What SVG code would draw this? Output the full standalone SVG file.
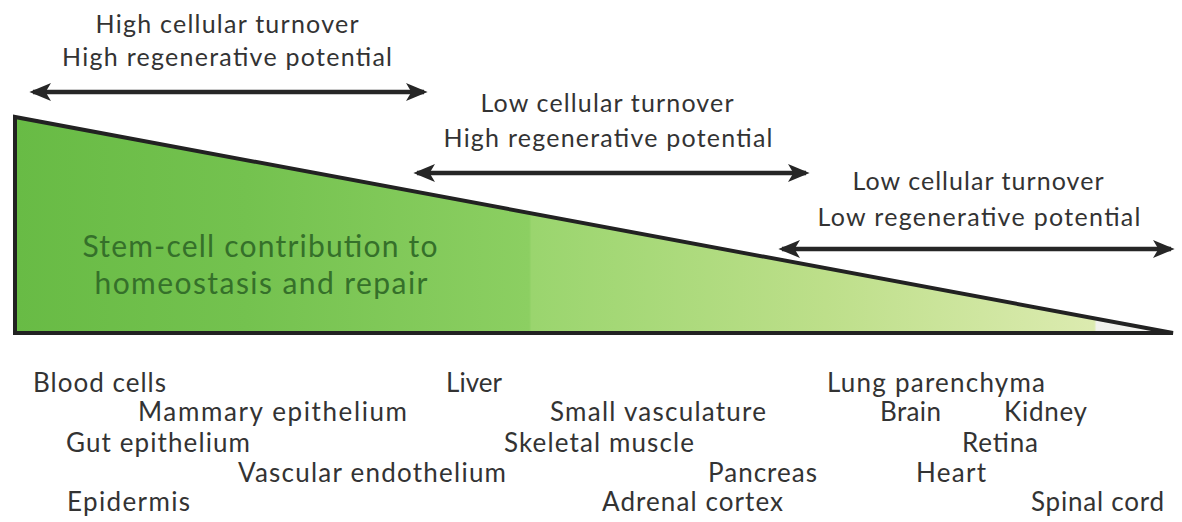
<svg xmlns="http://www.w3.org/2000/svg" width="1182" height="522" viewBox="0 0 1182 522">
<style>
.t{font-family:Lato,"Open Sans","Liberation Sans",sans-serif;font-size:25px;fill:#333}
.b{font-size:26px}
.g{font-family:Lato,"Open Sans","Liberation Sans",sans-serif;font-size:30px;fill:#35702a;text-anchor:middle}
.h{text-anchor:middle}
.arr{stroke:#262626;stroke-width:4.5;fill:none;marker-start:url(#ah);marker-end:url(#ah)}
</style>
<defs>
<linearGradient id="gr" x1="15" y1="0" x2="1173" y2="0" gradientUnits="userSpaceOnUse">
<stop offset="0" stop-color="#68bb45"/>
<stop offset="0.2" stop-color="#74c24f"/>
<stop offset="0.444" stop-color="#8ccf62"/>
<stop offset="0.446" stop-color="#9ad56e"/>
<stop offset="0.7" stop-color="#bddf8a"/>
<stop offset="0.932" stop-color="#dcebb0"/>
<stop offset="0.934" stop-color="#f0f1ec"/>
<stop offset="1" stop-color="#f4f4f2"/>
</linearGradient>
<marker id="ah" viewBox="0 0 12 10" refX="10" refY="5" markerWidth="4.8" markerHeight="4" orient="auto-start-reverse" markerUnits="strokeWidth">
<path d="M0,0 L12,5 L0,10 L3,5 Z" fill="#262626"/>
</marker>
</defs>
<rect width="1182" height="522" fill="#ffffff"/>
<g id="wedge">
<polygon points="15,117 15,333 1173,333" fill="url(#gr)" stroke="#222" stroke-width="4" stroke-linejoin="miter"/>
<text class="g" x="260" y="257" textLength="355" lengthAdjust="spacing">Stem-cell contribution to</text>
<text class="g" x="261" y="294" textLength="333" lengthAdjust="spacing">homeostasis and repair</text>
</g>
<g id="connectors">
<line class="arr" x1="33" y1="92" x2="424" y2="92"/>
<line class="arr" x1="417" y1="173" x2="806" y2="173"/>
<line class="arr" x1="782" y1="249" x2="1171" y2="249"/>
</g>
<g id="zone-high-high">
<text class="t h" x="227" y="33" textLength="263" lengthAdjust="spacing">High cellular turnover</text>
<text class="t h" x="227" y="66" textLength="330" lengthAdjust="spacing">High regenerative potential</text>
</g>
<g id="zone-low-high">
<text class="t h" x="607" y="112" textLength="253" lengthAdjust="spacing">Low cellular turnover</text>
<text class="t h" x="608" y="147" textLength="329" lengthAdjust="spacing">High regenerative potential</text>
</g>
<g id="zone-low-low">
<text class="t h" x="978" y="190" textLength="251" lengthAdjust="spacing">Low cellular turnover</text>
<text class="t h" x="979" y="226" textLength="323" lengthAdjust="spacing">Low regenerative potential</text>
</g>
<g id="tissues">
<text class="t b" x="33" y="392" textLength="133" lengthAdjust="spacing">Blood cells</text>
<text class="t b" x="446" y="392" textLength="56" lengthAdjust="spacing">Liver</text>
<text class="t b" x="138" y="421" textLength="269" lengthAdjust="spacing">Mammary epithelium</text>
<text class="t b" x="550" y="421" textLength="216" lengthAdjust="spacing">Small vasculature</text>
<text class="t b" x="66" y="452" textLength="184" lengthAdjust="spacing">Gut epithelium</text>
<text class="t b" x="504" y="452" textLength="190" lengthAdjust="spacing">Skeletal muscle</text>
<text class="t b" x="238" y="482" textLength="268" lengthAdjust="spacing">Vascular endothelium</text>
<text class="t b" x="708" y="482" textLength="109" lengthAdjust="spacing">Pancreas</text>
<text class="t b" x="67" y="511" textLength="123" lengthAdjust="spacing">Epidermis</text>
<text class="t b" x="602" y="511" textLength="181" lengthAdjust="spacing">Adrenal cortex</text>
<text class="t b" x="827" y="392" textLength="218" lengthAdjust="spacing">Lung parenchyma</text>
<text class="t b" x="880" y="421" textLength="61" lengthAdjust="spacing">Brain</text>
<text class="t b" x="1004" y="421" textLength="83" lengthAdjust="spacing">Kidney</text>
<text class="t b" x="962" y="452" textLength="76" lengthAdjust="spacing">Retina</text>
<text class="t b" x="916" y="482" textLength="70" lengthAdjust="spacing">Heart</text>
<text class="t b" x="1031" y="511" textLength="133" lengthAdjust="spacing">Spinal cord</text>
</g>
</svg>
